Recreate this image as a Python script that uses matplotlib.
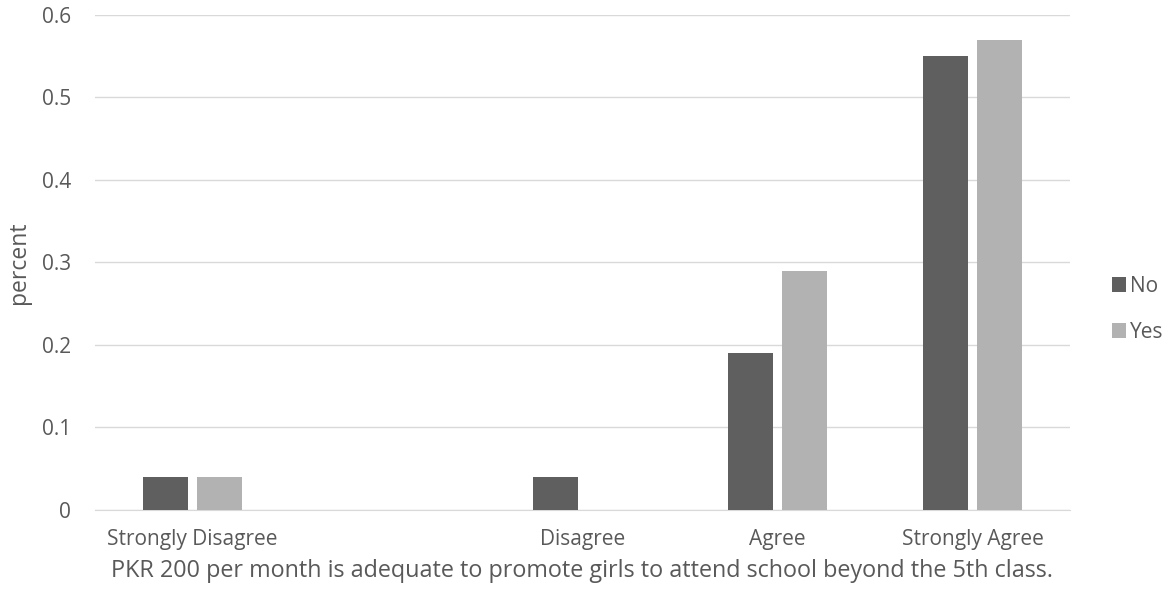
"""Grouped bar chart: PKR 200 per month adequacy, No vs Yes."""
import matplotlib
matplotlib.use("Agg")
import matplotlib.pyplot as plt
import numpy as np

categories = ["Strongly Disagree", "", "Disagree", "Agree", "Strongly Agree"]
no_vals = [0.04, 0.0, 0.04, 0.19, 0.55]
yes_vals = [0.04, 0.0, 0.0, 0.29, 0.57]
yticks = [0, 0.1, 0.2, 0.3, 0.4, 0.5, 0.6]

plt.rcParams["font.family"] = ["Open Sans", "DejaVu Sans"]
TEXT = "#595959"

fig = plt.figure(figsize=(11.72, 5.95), dpi=100)
ax = fig.add_axes([0.081, 0.143, 0.832, 0.832])

x = np.arange(len(categories))
w = 0.23
ax.bar(x - 0.14, no_vals, w, color="#5f5f5f", label="No", zorder=3)
ax.bar(x + 0.14, yes_vals, w, color="#b2b2b2", label="Yes", zorder=3)

ax.set_xlim(-0.5, len(categories) - 0.5)
ax.set_ylim(0, 0.6)
ax.set_yticks(yticks)
ax.set_yticklabels([f"{t:g}" for t in yticks])
ax.set_xticks(x)
ax.set_xticklabels(categories)
ax.tick_params(axis="both", length=0, colors=TEXT, labelsize=15)
ax.tick_params(axis="x", pad=14)
ax.tick_params(axis="y", pad=17)
ax.grid(axis="y", color="#d9d9d9", linewidth=1, zorder=0)
for s in ["top", "right", "left"]:
    ax.spines[s].set_visible(False)
ax.spines["bottom"].set_color("#d9d9d9")

ax.set_ylabel("percent", color=TEXT, fontsize=16.5, labelpad=8)
ax.set_xlabel("PKR 200 per month is adequate to promote girls to attend school beyond the 5th class.",
              color=TEXT, fontsize=16.8, labelpad=6)

leg = ax.legend(loc="center left", bbox_to_anchor=(1.0, 0.405), frameon=False,
                fontsize=15, handlelength=0.7, handleheight=0.7, handletextpad=0.2,
                labelspacing=1.2, borderaxespad=1.6)
for t in leg.get_texts():
    t.set_color(TEXT)

fig.savefig("out.png")
